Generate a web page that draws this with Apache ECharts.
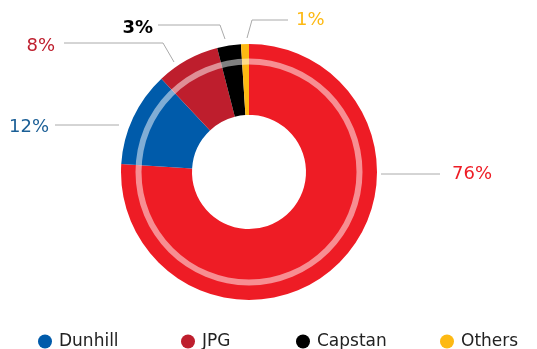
<!DOCTYPE html>
<html>
<head>
<meta charset="utf-8">
<script src="https://cdn.jsdelivr.net/npm/echarts@6/dist/echarts.min.js"></script>
<style>html,body{margin:0;padding:0;background:#fff}#c{width:537px;height:349px}</style>
</head>
<body>
<div id="c"></div>
<script>
const categories = ['Main brand', 'Dunhill', 'JPG', 'Capstan', 'Others'];
const shares = [76, 12, 8, 3, 1];
const sliceColors = ['#ee1c25', '#005baa', '#be1e2d', '#000000', '#fdb913'];
const labelColors = ['#ee1c25', '#1b5f96', '#be1e2d', '#000000', '#fdb913'];
const legendNames = ['Dunhill', 'JPG', 'Capstan', 'Others'];

const FONT = 'DejaVu Sans';
// label placement (text anchor + leader line) per slice
const labelPlace = [
  { x: 452, y: 174, align: 'left', pts: [[381, 174], [410, 174], [440, 174]] },
  { x: 49, y: 127, align: 'right', pts: [[119, 125], [90, 125], [55, 125]] },
  { x: 55, y: 46, align: 'right', pts: [[174, 62], [163, 43], [64, 43]] },
  { x: 153, y: 28, align: 'right', pts: [[225, 39], [220, 25], [158, 25]] },
  { x: 296, y: 20, align: 'left', pts: [[247, 38], [252, 20], [288, 20]] }
];

const chart = echarts.init(document.getElementById('c'), null, { renderer: 'canvas' });
const legendLefts = [38, 181, 296, 440];
const legends = legendNames.map((n, i) => ({
  data: [n],
  left: legendLefts[i],
  top: 333,
  padding: 0,
  icon: 'circle',
  itemWidth: 14,
  itemHeight: 14,
  selectedMode: false,
  textStyle: { fontFamily: FONT, fontSize: 17, color: '#222', padding: [0, 0, 0, 2] }
}));

chart.setOption({
  animation: false,
  legend: legends,
  series: [
    {
      type: 'pie',
      center: [249, 172],
      radius: [57, 128],
      startAngle: 90,
      clockwise: true,
      data: categories.map((c, i) => ({
        name: c,
        value: shares[i],
        itemStyle: { color: sliceColors[i] },
        label: { color: labelColors[i], fontWeight: i === 3 ? 600 : 'normal' }
      })),
      label: {
        show: true,
        position: 'outside',
        formatter: p => p.value + '%',
        fontFamily: FONT,
        fontSize: 18
      },
      labelLine: { show: true, lineStyle: { color: '#aaaaaa', width: 1 } },
      labelLayout: p => {
        const L = labelPlace[p.dataIndex];
        return { x: L.x, y: L.y, align: L.align, verticalAlign: 'middle', labelLinePoints: L.pts };
      },
      emphasis: { disabled: true }
    },
    {
      type: 'pie',
      center: [249, 172],
      radius: [107.5, 113.5],
      silent: true,
      label: { show: false },
      labelLine: { show: false },
      data: [{ name: '', value: 1, itemStyle: { color: 'rgba(255,255,255,0.5)' } }],
      emphasis: { disabled: true }
    }
  ]
});
</script>
</body>
</html>
